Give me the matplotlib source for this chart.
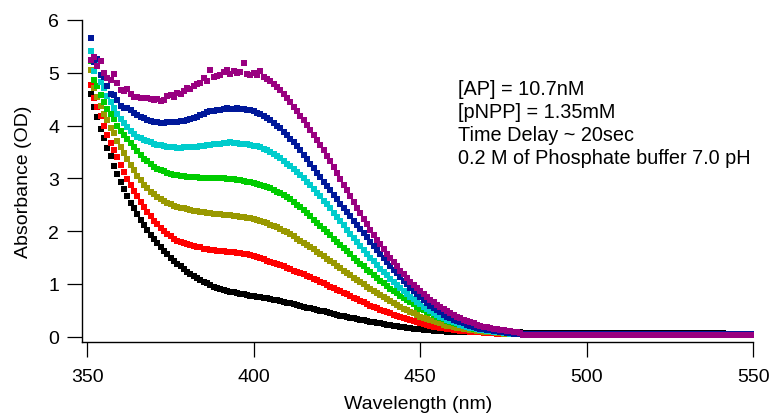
import numpy as np
import matplotlib
matplotlib.use('Agg')
from matplotlib import pyplot as plt

plt.rcParams['font.family'] = ['Liberation Sans', 'DejaVu Sans']

# absorbance spectra, one point per nm starting at 351 nm
start_nm = 351

black = [4.59, 4.35, 4.17, 3.94, 3.77, 3.58, 3.42, 3.24, 3.09, 2.93,
         2.79, 2.66, 2.54, 2.43, 2.32, 2.22, 2.12, 2.02, 1.93, 1.85,
         1.77, 1.70, 1.63, 1.56, 1.50, 1.44, 1.38, 1.33, 1.28, 1.23,
         1.19, 1.15, 1.11, 1.08, 1.04, 1.01, 0.98, 0.95, 0.93, 0.91,
         0.89, 0.87, 0.85, 0.84, 0.82, 0.81, 0.80, 0.79, 0.78, 0.77,
         0.76, 0.75, 0.74, 0.73, 0.72, 0.70, 0.69, 0.67, 0.66, 0.64,
         0.63, 0.61, 0.60, 0.58, 0.57, 0.55, 0.54, 0.52, 0.51, 0.49,
         0.48, 0.46, 0.45, 0.43, 0.42, 0.40, 0.39, 0.37, 0.36, 0.35,
         0.33, 0.32, 0.31, 0.29, 0.28, 0.27, 0.26, 0.25, 0.24, 0.23,
         0.22, 0.21, 0.20, 0.19, 0.18, 0.17, 0.16, 0.15, 0.14, 0.14,
         0.13, 0.12, 0.12, 0.11, 0.11, 0.10, 0.10, 0.09, 0.09, 0.09,
         0.09, 0.08, 0.08, 0.08, 0.08, 0.08, 0.08, 0.08, 0.08, 0.08,
         0.08, 0.08, 0.08, 0.08, 0.08, 0.08, 0.08, 0.08, 0.08, 0.08] + [0.075] * 61

red = [4.76, 4.52, 4.36, 4.18, 4.00, 3.83, 3.67, 3.53, 3.40, 3.26,
       3.12, 2.99, 2.88, 2.76, 2.66, 2.56, 2.46, 2.37, 2.28, 2.20,
       2.13, 2.06, 2.00, 1.95, 1.90, 1.86, 1.82, 1.79, 1.77, 1.75,
       1.73, 1.71, 1.70, 1.69, 1.67, 1.66, 1.65, 1.64, 1.63, 1.62,
       1.62, 1.61, 1.60, 1.60, 1.59, 1.58, 1.57, 1.56, 1.55, 1.53,
       1.51, 1.49, 1.47, 1.44, 1.42, 1.40, 1.37, 1.35, 1.33, 1.30,
       1.28, 1.25, 1.23, 1.20, 1.18, 1.15, 1.13, 1.10, 1.07, 1.04,
       1.01, 0.98, 0.95, 0.92, 0.89, 0.86, 0.83, 0.80, 0.77, 0.74,
       0.71, 0.68, 0.65, 0.62, 0.59, 0.56, 0.54, 0.51, 0.49, 0.46,
       0.44, 0.41, 0.39, 0.37, 0.35, 0.33, 0.31, 0.29, 0.27, 0.25,
       0.24, 0.22, 0.21, 0.19, 0.18, 0.17, 0.16, 0.15, 0.14, 0.13,
       0.12, 0.11, 0.11, 0.10, 0.09, 0.09, 0.08, 0.08, 0.07, 0.07,
       0.07, 0.07, 0.06, 0.06, 0.06, 0.06, 0.06, 0.06, 0.06, 0.06] + [0.06] * 70

olive = [5.06, 4.71, 4.55, 4.37, 4.22, 4.10, 3.96, 3.85, 3.71, 3.60,
         3.48, 3.37, 3.26, 3.15, 3.05, 2.96, 2.88, 2.81, 2.75, 2.70,
         2.65, 2.61, 2.57, 2.54, 2.51, 2.48, 2.46, 2.44, 2.43, 2.41,
         2.40, 2.39, 2.38, 2.37, 2.36, 2.35, 2.34, 2.33, 2.32, 2.32,
         2.31, 2.30, 2.30, 2.29, 2.28, 2.27, 2.26, 2.25, 2.24, 2.23,
         2.21, 2.19, 2.17, 2.15, 2.12, 2.10, 2.07, 2.04, 2.01, 1.98,
         1.94, 1.90, 1.86, 1.82, 1.78, 1.74, 1.70, 1.66, 1.61, 1.57,
         1.52, 1.48, 1.43, 1.39, 1.34, 1.30, 1.25, 1.21, 1.16, 1.12,
         1.08, 1.03, 0.99, 0.95, 0.91, 0.87, 0.83, 0.79, 0.75, 0.71,
         0.67, 0.63, 0.60, 0.56, 0.53, 0.50, 0.47, 0.44, 0.41, 0.38,
         0.36, 0.33, 0.31, 0.29, 0.27, 0.25, 0.23, 0.21, 0.20, 0.18,
         0.17, 0.16, 0.15, 0.14, 0.13, 0.12, 0.11, 0.10, 0.09, 0.09,
         0.08, 0.08, 0.07, 0.07, 0.06, 0.06, 0.06, 0.05, 0.05, 0.05] + [0.05] * 70

green = [5.23, 4.86, 4.75, 4.57, 4.45, 4.31, 4.21, 4.12, 4.00, 3.90,
         3.82, 3.75, 3.67, 3.59, 3.51, 3.44, 3.37, 3.32, 3.27, 3.22,
         3.18, 3.15, 3.13, 3.10, 3.08, 3.07, 3.06, 3.05, 3.04, 3.03,
         3.02, 3.02, 3.02, 3.01, 3.01, 3.01, 3.01, 3.01, 3.00, 3.00,
         3.00, 2.99, 2.99, 2.98, 2.97, 2.96, 2.95, 2.94, 2.93, 2.91,
         2.90, 2.88, 2.86, 2.84, 2.81, 2.78, 2.75, 2.72, 2.68, 2.64,
         2.60, 2.55, 2.50, 2.45, 2.40, 2.34, 2.28, 2.22, 2.16, 2.10,
         2.04, 1.98, 1.92, 1.86, 1.80, 1.74, 1.68, 1.62, 1.56, 1.50,
         1.44, 1.38, 1.33, 1.27, 1.22, 1.17, 1.11, 1.06, 1.01, 0.96,
         0.91, 0.86, 0.82, 0.77, 0.73, 0.69, 0.65, 0.61, 0.57, 0.53,
         0.50, 0.47, 0.44, 0.41, 0.38, 0.35, 0.33, 0.30, 0.28, 0.26,
         0.24, 0.22, 0.20, 0.18, 0.17, 0.15, 0.14, 0.13, 0.12, 0.11,
         0.10, 0.09, 0.08, 0.08, 0.07, 0.07, 0.06, 0.06, 0.05, 0.05] + [0.05] * 70

cyan = [5.42, 5.04, 5.14, 4.82, 4.72, 4.56, 4.45, 4.33, 4.22, 4.12,
        4.05, 3.97, 3.90, 3.84, 3.79, 3.76, 3.72, 3.70, 3.68, 3.66,
        3.64, 3.63, 3.61, 3.60, 3.59, 3.59, 3.58, 3.58, 3.59, 3.59,
        3.59, 3.60, 3.60, 3.61, 3.62, 3.63, 3.64, 3.65, 3.65, 3.66,
        3.67, 3.67, 3.68, 3.67, 3.67, 3.66, 3.66, 3.65, 3.64, 3.62,
        3.61, 3.59, 3.56, 3.53, 3.50, 3.46, 3.42, 3.38, 3.33, 3.28,
        3.23, 3.18, 3.12, 3.06, 3.00, 2.94, 2.87, 2.80, 2.73, 2.66,
        2.58, 2.51, 2.43, 2.35, 2.27, 2.19, 2.11, 2.03, 1.95, 1.87,
        1.79, 1.72, 1.64, 1.57, 1.50, 1.43, 1.36, 1.29, 1.23, 1.16,
        1.10, 1.04, 0.98, 0.92, 0.86, 0.81, 0.76, 0.71, 0.66, 0.61,
        0.57, 0.53, 0.49, 0.45, 0.42, 0.38, 0.35, 0.32, 0.30, 0.27,
        0.25, 0.23, 0.21, 0.19, 0.17, 0.16, 0.14, 0.13, 0.12, 0.11,
        0.10, 0.09, 0.08, 0.08, 0.07, 0.07, 0.06, 0.06, 0.06, 0.05] + [0.05] * 70

blue = [5.66, 5.20, 5.26, 4.95, 4.92, 4.75, 4.60, 4.58, 4.48, 4.38,
        4.34, 4.33, 4.30, 4.23, 4.20, 4.17, 4.14, 4.11, 4.09, 4.07,
        4.06, 4.05, 4.05, 4.06, 4.06, 4.07, 4.07, 4.08, 4.09, 4.11,
        4.13, 4.15, 4.17, 4.20, 4.22, 4.25, 4.27, 4.28, 4.29, 4.30,
        4.31, 4.33, 4.31, 4.32, 4.34, 4.31, 4.32, 4.30, 4.29, 4.27,
        4.24, 4.21, 4.18, 4.14, 4.10, 4.05, 4.00, 3.95, 3.88, 3.82,
        3.75, 3.68, 3.61, 3.53, 3.45, 3.37, 3.28, 3.20, 3.11, 3.03,
        2.94, 2.86, 2.77, 2.69, 2.60, 2.52, 2.44, 2.36, 2.28, 2.20,
        2.12, 2.04, 1.96, 1.88, 1.80, 1.72, 1.64, 1.57, 1.49, 1.42,
        1.34, 1.27, 1.20, 1.13, 1.06, 0.99, 0.93, 0.87, 0.81, 0.75,
        0.69, 0.64, 0.59, 0.54, 0.50, 0.46, 0.42, 0.38, 0.35, 0.32,
        0.29, 0.27, 0.25, 0.23, 0.21, 0.19, 0.17, 0.15, 0.14, 0.13,
        0.12, 0.11, 0.10, 0.09, 0.08, 0.07, 0.07, 0.06, 0.06, 0.06] + [0.05] * 70

purple = [5.25, 5.30, 5.12, 5.22, 5.00, 4.90, 4.86, 4.98, 4.80, 4.68,
          4.65, 4.70, 4.60, 4.55, 4.55, 4.52, 4.53, 4.52, 4.50, 4.48,
          4.50, 4.47, 4.49, 4.56, 4.58, 4.55, 4.62, 4.60, 4.65, 4.72,
          4.70, 4.75, 4.78, 4.80, 4.90, 4.85, 5.06, 4.92, 4.93, 4.95,
          5.02, 5.05, 4.97, 5.03, 5.00, 5.01, 5.18, 4.98, 4.96, 5.00,
          4.95, 5.04, 4.92, 4.88, 4.84, 4.79, 4.73, 4.67, 4.60, 4.52,
          4.44, 4.36, 4.28, 4.19, 4.10, 4.01, 3.92, 3.83, 3.73, 3.63,
          3.53, 3.42, 3.32, 3.21, 3.10, 2.99, 2.88, 2.77, 2.66, 2.55,
          2.44, 2.34, 2.23, 2.13, 2.03, 1.93, 1.84, 1.75, 1.66, 1.57,
          1.49, 1.41, 1.33, 1.25, 1.18, 1.11, 1.04, 0.98, 0.92, 0.86,
          0.80, 0.75, 0.70, 0.65, 0.60, 0.56, 0.52, 0.48, 0.44, 0.41,
          0.38, 0.35, 0.32, 0.30, 0.27, 0.25, 0.23, 0.21, 0.19, 0.18,
          0.16, 0.15, 0.14, 0.13, 0.12, 0.11, 0.10, 0.09, 0.08, 0.07] + [0.035] * 70

series = [black, red, olive, green, cyan, blue, purple]
colors = ['#000000', '#ff0000', '#999900', '#00cc00', '#00cccc', '#00189a', '#990080']

info = ['[AP] = 10.7nM', '[pNPP] = 1.35mM', 'Time Delay ~ 20sec',
        '0.2 M of Phosphate buffer 7.0 pH']

fig = plt.figure(figsize=(7.71, 4.14), dpi=100)
ax = fig.add_axes([0.1067, 0.1722, 0.8703, 0.7771])

for y, c in zip(series, colors):
    x = np.arange(start_nm, start_nm + len(y))
    ax.plot(x, y, 's', color=c, ms=3.9, mew=0)

ax.set_xlim(348.5, 550)
ax.set_ylim(-0.095, 6)
ax.set_xticks([350, 400, 450, 500, 550])
ax.set_yticks([0, 1, 2, 3, 4, 5, 6])

for s in ['top', 'right']:
    ax.spines[s].set_visible(False)
for s in ['left', 'bottom']:
    ax.spines[s].set_linewidth(1.0)

ax.tick_params(direction='out', length=10.5, width=0.9, labelsize=14)
ax.tick_params(axis='x', pad=8.5)
ax.tick_params(axis='y', pad=6)

ax.set_xlabel('Wavelength (nm)', fontsize=14, labelpad=7)
ax.set_ylabel('Absorbance (OD)', fontsize=14, labelpad=12)

ax.text(0.56, 0.818, '\n'.join(info), transform=ax.transAxes, fontsize=14.3,
        va='top', ha='left', linespacing=1.27)

fig.savefig('out.png', dpi=100)
